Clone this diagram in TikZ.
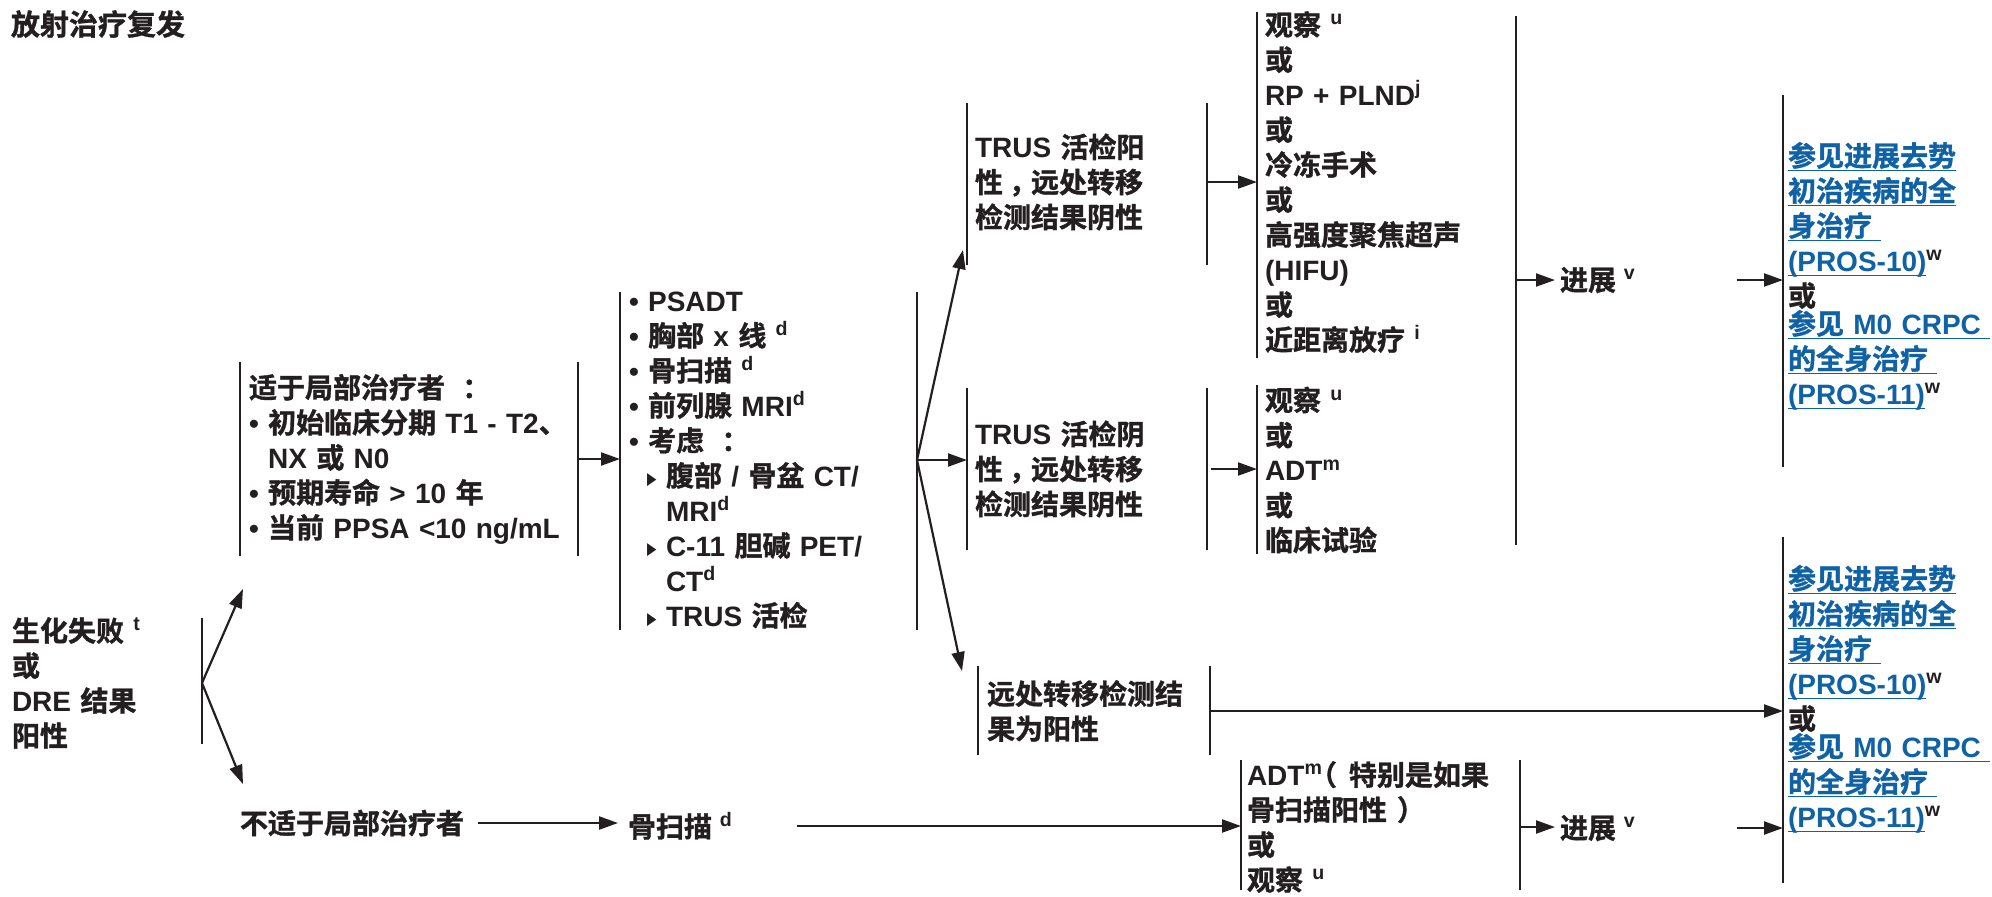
\documentclass[tikz,border=0pt]{standalone}
\usepackage{fontspec}
\setmainfont{Liberation Sans}
\newfontfamily\cjkf{Noto Sans CJK SC Bold}[BoldFont={Noto Sans CJK SC Bold},BoldFeatures={FakeBold=1.2}]
\newfontfamily\djv{DejaVu Sans}
\usetikzlibrary{arrows.meta}
\definecolor{ink}{RGB}{35,31,32}
\definecolor{linkblue}{RGB}{16,98,166}
% automatic switch to the CJK font for CJK characters
\XeTeXinterchartokenstate=1
\chardef\cjkcls=7
\newcount\cjkcnt
\cjkcnt="4E00
\loop \XeTeXcharclass\cjkcnt=\cjkcls \advance\cjkcnt by 1 \ifnum\cjkcnt<"A000 \repeat
\cjkcnt="3000
\loop \XeTeXcharclass\cjkcnt=\cjkcls \advance\cjkcnt by 1 \ifnum\cjkcnt<"3040 \repeat
\cjkcnt="FF00
\loop \XeTeXcharclass\cjkcnt=\cjkcls \advance\cjkcnt by 1 \ifnum\cjkcnt<"FFF0 \repeat
\XeTeXinterchartoks 0 \cjkcls = {\begingroup\cjkf}
\XeTeXinterchartoks 4095 \cjkcls = {\begingroup\cjkf}
\XeTeXinterchartoks \cjkcls 0 = {\endgroup}
\XeTeXinterchartoks \cjkcls 4095 = {\endgroup}
\newcommand\tfont{\fontsize{14pt}{17.5pt}\selectfont\bfseries}
\newcommand\spx[1]{\textsuperscript{#1}}
\newcommand\tri{\raisebox{0.7pt}{\scalebox{0.72}[1]{\fontsize{8.5pt}{8.5pt}\djv\selectfont ▶}}}
\newcommand\subit{\hspace*{9pt}\makebox[9.5pt][l]{\tri}}
\newcommand\subcont{\hspace*{18.5pt}}
\newcommand\lk[1]{\leavevmode{\color{linkblue}\setbox0\hbox{#1}\rlap{\rule[-2.6pt]{\wd0}{0.75pt}}\box0}}
\newcommand\brk[4]{\draw[ink] ([yshift=#3*0.5pt]#1.#2) -- ([yshift=-#4*0.5pt]#1.#2);}
\newcommand\cma{\hspace{3pt}，\hspace{-3pt}}
\begin{document}
\begin{tikzpicture}[x=0.5pt,y=-0.5pt,line width=1.1pt,
  txt/.style={font=\tfont,text=ink,inner ysep=0pt,inner xsep=4.5pt,outer sep=0pt,align=left,anchor=west},
  arr/.style={draw=ink,line width=1.1pt,-{Triangle[length=9.5pt,width=6.5pt]}}]
\fill[white] (0,0) rectangle (1992,896);
\useasboundingbox (0,0) rectangle (1992,896);

\node[txt,inner xsep=0pt,font=\fontsize{14.5pt}{17.5pt}\selectfont\bfseries] (title) at (11,24) {放射治疗复发};

\node[txt,text width=90.5pt] (A) at (3,683) {生化失败 \spx{t}\\或\\DRE 结果\\阳性};
\node[txt,text width=160pt] (B) at (240,459) {适于局部治疗者 \hspace{4pt}：\\• 初始临床分期 T1 - T2、\\\hphantom{• }NX 或 N0\\• 预期寿命 > 10 年\\• 当前 PPSA <10 ng/mL};
\node[txt,inner xsep=0pt] (D) at (240,823) {不适于局部治疗者};
\node[txt,inner xsep=5pt] (E) at (618,826) {骨扫描 \spx{d}};
\node[txt,text width=139.5pt] (C) at (620,460) {• PSADT\\• 胸部 x 线 \spx{d}\\• 骨扫描 \spx{d}\\• 前列腺 MRI\spx{d}\\• 考虑 \hspace{4pt}：\\\subit 腹部 / 骨盆 CT/\\\subcont MRI\spx{d}\\\subit C-11 胆碱 PET/\\\subcont CT\spx{d}\\\subit TRUS 活检};
\node[txt,inner xsep=4pt,text width=112pt] (G) at (967,182) {TRUS 活检阳\\性\cma 远处转移\\检测结果阴性};
\node[txt,inner xsep=4pt,text width=112pt] (H) at (967,469) {TRUS 活检阴\\性\cma 远处转移\\检测结果阴性};
\node[txt,text width=107pt] (I) at (978,711) {远处转移检测结\\果为阳性};
\node[txt,inner xsep=4pt,text width=121.5pt] (J) at (1257,182) {观察 \spx{u}\\或\\RP + PLND\spx{j}\\或\\冷冻手术\\或\\高强度聚焦超声\\(HIFU)\\或\\近距离放疗 \spx{i}};
\node[txt,inner xsep=4pt,text width=100pt] (K) at (1257,470) {观察 \spx{u}\\或\\ADT\spx{m}\\或\\临床试验};
\node[txt,inner xsep=3pt,text width=133.5pt] (F) at (1241,827) {ADT\spx{m}\hspace{-7pt}（\hspace{6pt}特别是如果\\骨扫描阳性\hspace{5pt}）\\或\\观察 \spx{u}};
\node[txt,inner xsep=2.5pt] (P1) at (1555,280) {进展 \spx{v}};
\node[txt,inner xsep=2.5pt] (P2) at (1555,828) {进展 \spx{v}};
\node[txt,inner xsep=2.5pt,text width=100pt] (R1) at (1783,276) {\lk{参见进展去势}\\\lk{初治疾病的全}\\\lk{身治疗\ }\\\lk{(PROS-10)}\spx{w}\\或\\[-3.5pt]\lk{参见 M0 CRPC\ }\\\lk{的全身治疗\ }\\\lk{(PROS-11)}\spx{w}};
\node[txt,inner xsep=2.5pt,text width=100pt] (R2) at (1783,699) {\lk{参见进展去势}\\\lk{初治疾病的全}\\\lk{身治疗\ }\\\lk{(PROS-10)}\spx{w}\\或\\[-3.5pt]\lk{参见 M0 CRPC\ }\\\lk{的全身治疗\ }\\\lk{(PROS-11)}\spx{w}};

% brackets
\brk{A}{east}{65}{61}
\brk{B}{west}{97}{97}
\brk{B}{east}{97}{97}
\brk{C}{west}{168}{170}
\brk{C}{east}{168}{170}
\brk{G}{west}{79}{83}
\brk{G}{east}{79}{83}
\brk{H}{west}{81}{81}
\brk{H}{east}{81}{81}
\brk{I}{west}{45}{44}
\brk{I}{east}{45}{44}
\brk{J}{west}{170}{176}
\brk{J}{east}{166}{363}
\brk{K}{west}{85}{84}
\brk{F}{west}{67}{63}
\brk{F}{east}{67}{63}
\brk{R1}{west}{181}{191}
\brk{R2}{west}{162}{184}

% connectors
\coordinate (cAB) at (243,589);
\coordinate (cAD) at (243,784);
\draw[arr] (A.east) -- (cAB);
\draw[arr] (A.east) -- (cAD);
\draw[arr] (B.east) -- (B.east -| C.west);
\draw[arr] ([xshift=7pt]D.east) -- (D.east -| E.west);
\draw[arr] ([xshift=27pt]E.east) -- (E.east -| F.west);
\draw[arr] (C.east) -- ([xshift=-2pt,yshift=-34pt]G.west);
\draw[arr] (C.east) -- (C.east -| H.west);
\draw[arr] (C.east) -- ([xshift=-8pt,yshift=20pt]I.west);
\draw[arr] (G.east) -- (G.east -| J.west);
\draw[arr] ([xshift=2pt]H.east) -- (H.east -| K.west);
\draw[arr] (I.east) -- (I.east -| R2.west);
\draw[arr] (P1.west -| J.east) -- (P1.west);
\draw[arr] (F.east) -- (F.east -| P2.west);
\draw[arr] ([xshift=48pt]P1.east) -- (P1.east -| R1.west);
\draw[arr] ([xshift=48pt]P2.east) -- (P2.east -| R2.west);
\end{tikzpicture}
\end{document}
